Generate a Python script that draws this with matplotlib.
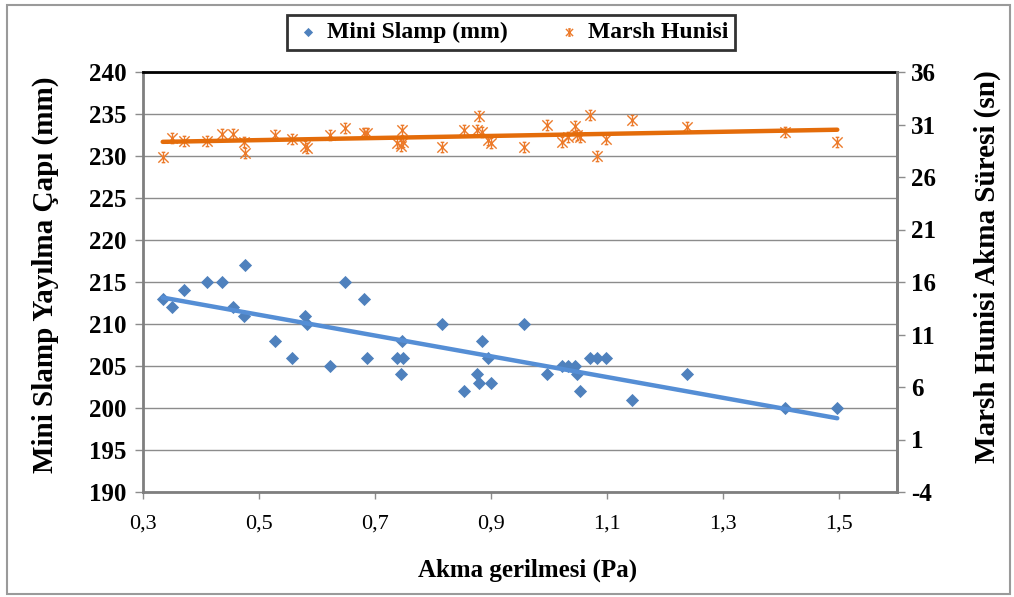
import numpy as np
import matplotlib
matplotlib.use("Agg")
import matplotlib.pyplot as plt
from matplotlib.path import Path
from matplotlib.patches import Rectangle
from matplotlib.ticker import FuncFormatter

# akma gerilmesi (Pa) - shared by both series
akma = [0.334, 0.350, 0.371, 0.411, 0.436, 0.476, 0.455, 0.474, 0.528, 0.557,
        0.579, 0.582, 0.622, 0.648, 0.681, 0.686, 0.738, 0.748, 0.746, 0.745,
        0.815, 0.853, 0.876, 0.879, 0.884, 0.895, 0.900, 0.957, 0.996, 1.022,
        1.032, 1.045, 1.048, 1.053, 1.071, 1.083, 1.098, 1.143, 1.238, 1.407,
        1.497]

# mini slamp yayilma capi (mm)
slamp = [213, 212, 214, 215, 215, 217, 212, 211, 208, 206,
         211, 210, 205, 215, 213, 206, 206, 206, 208, 204,
         210, 202, 204, 203, 208, 206, 203, 210, 204, 205,
         205, 205, 204, 202, 206, 206, 206, 201, 204, 200,
         200]

# marsh hunisi akma suresi (sn)
marsh = [27.9, 29.7, 29.4, 29.4, 30.1, 28.3, 30.1, 29.3, 30.0, 29.6,
         29.0, 28.8, 30.0, 30.7, 30.2, 30.2, 29.2, 29.3, 30.5, 29.0,
         28.9, 30.5, 30.5, 31.8, 30.3, 29.5, 29.2, 28.9, 31.0, 29.3,
         29.8, 30.9, 30.0, 29.8, 31.9, 28.0, 29.6, 31.4, 30.8, 30.3,
         29.3]

x_ticks = [0.3, 0.5, 0.7, 0.9, 1.1, 1.3, 1.5]
left_ticks = list(range(190, 241, 5))
right_ticks = list(range(-4, 37, 5))

blue = "#4F81BD"
blue_line = "#558ED5"
orange = "#EC7A2A"
orange_line = "#E46C0A"
serif = "Liberation Serif"

# excel style star marker: X with a vertical bar and small caps
star = Path([(-1, -1), (1, 1), (-1, 1), (1, -1), (0, -1), (0, 1),
             (-0.35, 1), (0.35, 1), (-0.35, -1), (0.35, -1)],
            [Path.MOVETO, Path.LINETO] * 5)

plt.rcParams['font.family'] = [serif, 'DejaVu Serif']
plt.rcParams['axes.unicode_minus'] = False

fig = plt.figure(figsize=(10.14, 5.97), dpi=100)
ax = fig.add_axes([143 / 1014, 1 - 492 / 597, 754 / 1014, 420 / 597])
ax2 = ax.twinx()

x = np.array(akma)
xs = np.array([x.min(), x.max()])

ax.scatter(akma, slamp, marker="D", s=45, color=blue, zorder=3,
           label="Mini Slamp (mm)", linewidths=0)
c1 = np.polyfit(x, slamp, 1)
ax.plot(xs, np.polyval(c1, xs), color=blue_line, lw=3.2, zorder=4,
        solid_capstyle="round")

ax2.scatter(akma, marsh, marker=star, s=55, color=orange, linewidths=1.0,
            zorder=3, label="Marsh Hunisi")
c2 = np.polyfit(x, marsh, 1)
ax2.plot(xs, np.polyval(c2, xs), color=orange_line, lw=3.2, zorder=4,
         solid_capstyle="round")

ax.set_xlim(0.3, 1.6)
ax.set_ylim(190, 240)
ax2.set_ylim(-4, 36)
ax.set_xticks(x_ticks)
ax.set_yticks(left_ticks)
ax2.set_yticks(right_ticks)
ax.xaxis.set_major_formatter(FuncFormatter(lambda v, p: ("%.1f" % v).replace(".", ",")))

ax.grid(axis="y", color="#8c8c8c", lw=1.0)
ax.set_axisbelow(True)

for lab in ax.get_yticklabels() + ax2.get_yticklabels():
    lab.set_fontweight("bold")
    lab.set_fontsize(18)
for lab in ax.get_xticklabels():
    lab.set_fontsize(16)

ax.tick_params(axis="y", direction="out", length=6, width=1, color="#8c8c8c", pad=6)
ax.tick_params(axis="x", direction="out", length=5, width=1, color="#8c8c8c", pad=11)
ax2.tick_params(axis="y", direction="out", length=6, width=1, color="#8c8c8c", pad=4)

for sp in ["left", "bottom", "right"]:
    ax.spines[sp].set_color("#7f7f7f")
    ax.spines[sp].set_linewidth(2)
ax.spines["top"].set_color("black")
ax.spines["top"].set_linewidth(2)
ax2.spines["right"].set_color("#7f7f7f")
ax2.spines["right"].set_linewidth(2)
for sp in ["left", "bottom", "top"]:
    ax2.spines[sp].set_visible(False)

fig.text(45 / 1014, 1 - 275 / 597, "Mini Slamp Yayılma Çapı (mm)", rotation=90,
         ha="center", va="center", fontsize=21, fontweight="bold")
fig.text(987 / 1014, 1 - 267 / 597, "Marsh Hunisi Akma Süresi (sn)", rotation=90,
         ha="center", va="center", fontsize=21, fontweight="bold")
fig.text(528 / 1014, 1 - 570 / 597, "Akma gerilmesi (Pa)",
         ha="center", va="center", fontsize=18, fontweight="bold")

h1, l1 = ax.get_legend_handles_labels()
h2, l2 = ax2.get_legend_handles_labels()
leg = fig.legend(h1 + h2, l1 + l2, loc="center", bbox_to_anchor=(511 / 1014, 1 - 32.5 / 597),
                 ncol=2, frameon=True, fancybox=False, edgecolor="black",
                 prop={"weight": "bold", "size": 17}, handletextpad=0.2,
                 columnspacing=2.0, borderpad=0.3, handlelength=1.2,
                 borderaxespad=0, markerscale=0.7)
leg.get_frame().set_linewidth(2)

fig.patches.append(Rectangle((7 / 1014, 3 / 597), 1003 / 1014, 589 / 597,
                             transform=fig.transFigure, fill=False,
                             edgecolor="#9a9a9a", lw=1.5))

fig.savefig("out.png", dpi=100)
